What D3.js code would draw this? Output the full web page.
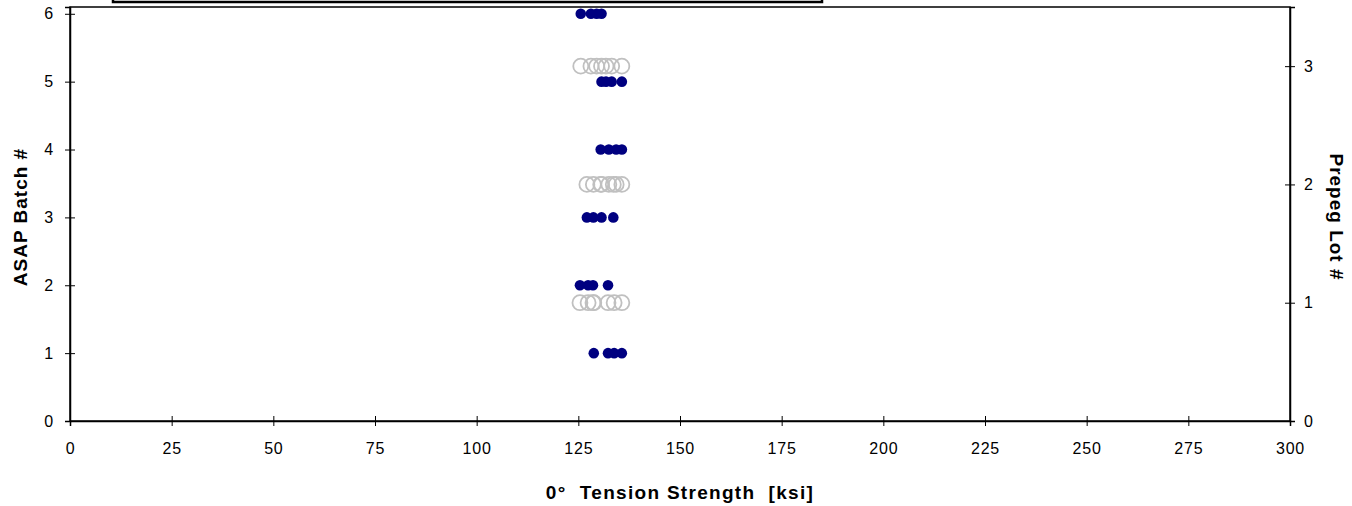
<!DOCTYPE html>
<html><head><meta charset="utf-8">
<script src="https://cdn.jsdelivr.net/npm/d3@7"></script>
<style>
html,body{margin:0;padding:0;background:#fff;}
text{font-family:"Liberation Sans",Arial,sans-serif;}
</style></head>
<body>
<svg id="c" width="1352" height="506"></svg>
<script>
// ASAP batch data (left axis) — strength [ksi] per batch
const batchIds = [1, 2, 3, 4, 5, 6];
const batch1 = [128.8, 132.3, 133.8, 135.7];
const batch2 = [125.4, 127.4, 128.6, 132.3];
const batch3 = [127.1, 128.7, 130.7, 133.6];
const batch4 = [130.5, 132.5, 134.3, 135.7];
const batch5 = [130.7, 131.8, 133.2, 135.7];
const batch6 = [125.6, 128.1, 129.5, 130.7];
// Prepreg lot data (right axis)
const lotIds = [1, 2, 3];
const lot1 = [125.4, 127.4, 128.6, 128.8, 132.3, 133.8, 135.7];
const lot2 = [127.1, 128.7, 130.5, 130.7, 132.5, 133.6, 134.3, 135.7];
const lot3 = [125.6, 128.1, 129.5, 130.7, 131.8, 133.2, 135.7];
// ticks
const xTicks = [0, 25, 50, 75, 100, 125, 150, 175, 200, 225, 250, 275, 300];
const yLeftTicks = [0, 1, 2, 3, 4, 5, 6];
const yRightTicks = [0, 1, 2, 3];

const batches = [batch1, batch2, batch3, batch4, batch5, batch6];
const lots = [lot1, lot2, lot3];

const svg = d3.select("#c");
const L = 70, R = 1290, T = 7, B = 421;
const x = d3.scaleLinear().domain([0, 300]).range([L, R]);
const yL = d3.scaleLinear().domain([0, 6.1]).range([B, T]);
const yR = d3.scaleLinear().domain([0, 3.5]).range([B, T]);

// legend box remnant at top
svg.append("rect").attr("x", 113).attr("y", -40).attr("width", 709).attr("height", 42)
  .attr("fill", "#fff").attr("stroke", "#000").attr("stroke-width", 2.5);

// plot frame
svg.append("rect").attr("x", L).attr("y", T).attr("width", R - L).attr("height", B - T)
  .attr("fill", "none").attr("stroke", "#000").attr("stroke-width", 1.5);

function styleAxis(g) {
  g.select(".domain").attr("stroke", "#000").attr("stroke-width", 1.5);
  g.selectAll(".tick line").attr("stroke", "#000").attr("stroke-width", 1);
  g.selectAll(".tick text").attr("font-size", 16).attr("letter-spacing", 0.8).attr("fill", "#000")
    .attr("font-family", "Liberation Sans, Arial, sans-serif");
}

// x axis
const gx = svg.append("g").attr("transform", `translate(0,${B})`)
  .call(d3.axisBottom(x).tickValues(xTicks).tickSize(5).tickPadding(17).tickFormat(d3.format("d")));
styleAxis(gx);
gx.selectAll(".tick line").attr("y1", -5);

// left axis
const gl = svg.append("g").attr("transform", `translate(${L},0)`)
  .call(d3.axisLeft(yL).tickValues(yLeftTicks).tickSize(5).tickPadding(11).tickFormat(d3.format("d")));
styleAxis(gl);
gl.selectAll(".tick line").attr("x1", 5);

// right axis
const gr = svg.append("g").attr("transform", `translate(${R},0)`)
  .call(d3.axisRight(yR).tickValues(yRightTicks).tickSize(5).tickPadding(9).tickFormat(d3.format("d")));
styleAxis(gr);
gr.selectAll(".tick line").attr("x1", -5);

// prepreg lots: hollow gray circles
lots.forEach((vals, i) => {
  svg.append("g").selectAll("circle").data(vals).join("circle")
    .attr("cx", d => x(d)).attr("cy", yR(lotIds[i])).attr("r", 7.5)
    .attr("fill", "none").attr("stroke", "#c0c0c0").attr("stroke-width", 1.8);
});

// batches: navy filled dots
batches.forEach((vals, i) => {
  svg.append("g").selectAll("circle").data(vals).join("circle")
    .attr("cx", d => x(d)).attr("cy", yL(batchIds[i])).attr("r", 5.3)
    .attr("fill", "#000080");
});

// axis titles
svg.append("text").attr("x", (L + R) / 2).attr("y", 499).attr("text-anchor", "middle")
  .attr("font-size", 19).attr("font-weight", "bold").attr("letter-spacing", 1.3).style("white-space", "pre")
  .text("0°  Tension Strength  [ksi]");
svg.append("text").attr("transform", `translate(27,${(T + B) / 2 + 3}) rotate(-90)`)
  .attr("text-anchor", "middle").attr("font-size", 19).attr("font-weight", "bold").attr("letter-spacing", 1)
  .text("ASAP Batch #");
svg.append("text").attr("transform", `translate(1330,${(T + B) / 2 + 3}) rotate(90)`)
  .attr("text-anchor", "middle").attr("font-size", 19).attr("font-weight", "bold").attr("letter-spacing", 1)
  .text("Prepeg Lot #");
</script>
</body></html>
